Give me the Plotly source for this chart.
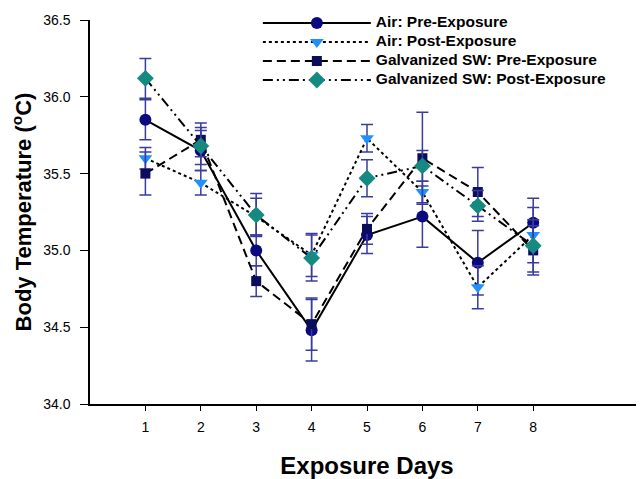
import plotly.graph_objects as go

days = [1, 2, 3, 4, 5, 6, 7, 8]

air_pre = [35.85, 35.65, 35.00, 34.48, 35.10, 35.22, 34.92, 35.18]
air_pre_err = [0.13, 0.13, 0.10, 0.20, 0.12, 0.20, 0.21, 0.16]

air_post = [35.60, 35.44, 35.22, 34.97, 35.73, 35.38, 34.76, 35.10]
air_post_err = [0.07, 0.08, 0.12, 0.14, 0.09, 0.07, 0.14, 0.18]

galv_pre = [35.50, 35.72, 34.80, 34.52, 35.14, 35.60, 35.38, 35.00]
galv_pre_err = [0.14, 0.11, 0.10, 0.17, 0.10, 0.30, 0.16, 0.16]

galv_post = [36.12, 35.68, 35.23, 34.95, 35.47, 35.55, 35.29, 35.03]
galv_post_err = [0.13, 0.12, 0.14, 0.15, 0.12, 0.10, 0.10, 0.17]

names = ["Air: Pre-Exposure", "Air: Post-Exposure",
         "Galvanized SW: Pre-Exposure", "Galvanized SW: Post-Exposure"]

y_ticks = [34.0, 34.5, 35.0, 35.5, 36.0, 36.5]

err_color = "#3b3b9e"
font_fam = "Liberation Sans, Arial, sans-serif"

series = [
    (names[0], air_pre, air_pre_err, "circle", "#0a0a7e", "solid", 12),
    (names[1], air_post, air_post_err, "triangle-down", "#1e90ff", "dot", 12),
    (names[2], galv_pre, galv_pre_err, "square", "#0c0c5c", "9px,5px", 10),
    (names[3], galv_post, galv_post_err, "diamond", "#168a80", "10px,4px,2px,4px,2px,4px", 13),
]

fig = go.Figure()
for name, y, e, sym, col, dash, ms in series:
    fig.add_trace(go.Scatter(
        x=days, y=y, name='<span style="font-size:15.5px">' + name + '</span>',
        mode="lines+markers",
        line=dict(color="black", width=2, dash=dash),
        marker=dict(symbol=sym, color=col, size=ms, line=dict(width=0)),
        error_y=dict(type="data", array=e, visible=True, color=err_color,
                     thickness=1.5, width=6),
    ))

# the page body has an 8px margin, so the figure is made 8px smaller
fig.update_layout(
    width=636, height=471,
    margin=dict(l=82, r=0, t=8, b=75),
    paper_bgcolor="white", plot_bgcolor="white",
    font=dict(family=font_fam, color="black"),
    showlegend=True,
    legend=dict(
        x=0.303, y=1.03, xanchor="left", yanchor="top",
        bgcolor="rgba(0,0,0,0)",
        font=dict(size=11, family=font_fam, color="black", weight="bold"),
        tracegroupgap=0, itemwidth=108,
    ),
    xaxis=dict(
        range=[0, 10], tickvals=days, ticktext=[str(d) for d in days],
        showline=True, linecolor="black", linewidth=1.5,
        ticks="outside", ticklen=5, tickcolor="black",
        showgrid=False, zeroline=False, automargin=False,
        tickfont=dict(size=14, family=font_fam),
        ticklabelstandoff=4,
        title=dict(text="<b>Exposure Days</b>", font=dict(size=24, family=font_fam), standoff=25),
    ),
    yaxis=dict(
        range=[34.0, 36.5], tickvals=y_ticks,
        tickformat=".1f",
        showline=True, linecolor="black", linewidth=1.5,
        ticks="outside", ticklen=8, tickcolor="black",
        showgrid=False, zeroline=False, automargin=False,
        tickfont=dict(size=14, family=font_fam),
        ticklabelstandoff=7,
        title=dict(text="<b>Body Temperature (<sup>o</sup>C)</b>", font=dict(size=22, family=font_fam), standoff=8),
    ),
)

fig.write_html("out.html")
